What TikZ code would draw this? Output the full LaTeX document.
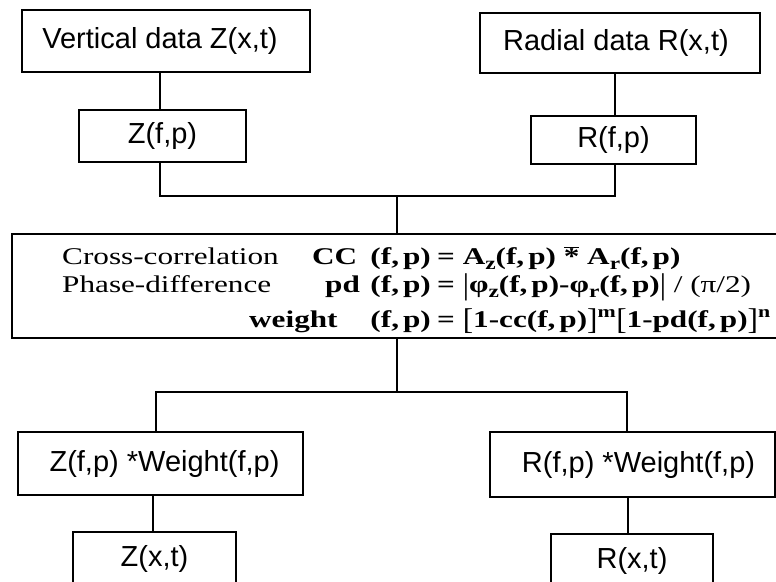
\documentclass[tikz,border=0pt]{standalone}
\usepackage{fontspec}
\setmainfont{Liberation Serif}[FakeStretch=1.3]
\newfontfamily\boxfont{Liberation Sans}
\newcommand\lowsub[1]{\raisebox{-5pt}{\fontsize{18}{18}\selectfont\bfseries #1}}
\newcommand\tallbr[1]{\raisebox{-2pt}{\scalebox{1}[1.25]{\mdseries #1}}}
\begin{document}
\begin{tikzpicture}[x=1pt,y=-1pt,
  box/.style={draw,line width=2.8pt,rectangle,inner sep=0pt,
    font=\boxfont\fontsize{29}{34}\selectfont},
  ln/.style={line width=2.8pt},
  ftxt/.style={inner sep=0pt,font=\fontsize{24}{28}\selectfont}]
\useasboundingbox (0,0) rectangle (776,581);
\fill[white] (0,0) rectangle (776,581);
\clip (0,0) rectangle (776,581);
% top boxes
\node[box,minimum width=288pt,minimum height=62pt] (vd) at (166,41) {Vertical data Z(x,t)\hspace*{12pt}};
\node[box,minimum width=280pt,minimum height=60pt] (rd) at (620,43) {Radial data R(x,t)\hspace*{8pt}};
\node[box,minimum width=167pt,minimum height=52pt] (zfp) at (162.5,136) {Z(f,p)};
\node[box,minimum width=165pt,minimum height=48pt] (rfp) at (613.5,140) {R(f,p)};
% central box
\node[box,minimum width=770pt,minimum height=104pt] (big) at (397,286) {};
% lower boxes
\node[box,minimum width=285pt,minimum height=63pt] (zw) at (160.5,463.5) {\hspace*{8pt}Z(f,p) *Weight(f,p)};
\node[box,minimum width=285pt,minimum height=65pt] (rw) at (632.5,464.5) {\hspace*{12pt}R(f,p) *Weight(f,p)};
\node[box,minimum width=163pt,minimum height=54pt] (zxt) at (154.5,559) {Z(x,t)};
\node[box,minimum width=162pt,minimum height=54pt] (rxt) at (632,561) {R(x,t)};
% junction coordinates
\coordinate (mL) at (160,196);
\coordinate (mR) at (615,196);
\coordinate (mC) at (397,196);
\coordinate (sL) at (156,392);
\coordinate (sR) at (627,392);
\coordinate (sC) at (397,392);
\coordinate (dL) at (153,500);
\coordinate (dR) at (628,500);
% connectors
\draw[ln] (vd.south -| mL) -- (zfp.north -| mL);
\draw[ln] (rd.south -| mR) -- (rfp.north -| mR);
\draw[ln] (zfp.south -| mL) -- (mL) -- (mR) -- (rfp.south -| mR);
\draw[ln] (mC) -- (big.north -| mC);
\draw[ln] (big.south -| sC) -- (sC);
\draw[ln] (zw.north -| sL) -- (sL) -- (sR) -- (rw.north -| sR);
\draw[ln] (zw.south -| dL) -- (zxt.north -| dL);
\draw[ln] (rw.south -| dR) -- (rxt.north -| dR);
% formulas
\node[ftxt,anchor=base west] (l1a) at (62,264) {Cross-correlation};
\node[ftxt,anchor=base west] (l1b) at (312,264) {\bfseries CC};
\node[ftxt,anchor=base east] (l1c) at (431,264) {\bfseries (f,\,p)};
\node[ftxt,anchor=base west] (l1d) at (437,264) {\bfseries = A\lowsub{z}(f,\,p) $\overline{\mbox{*}}$ A\lowsub{r}(f,\,p)};
\node[ftxt,anchor=base west] (l2a) at (62,292) {Phase-difference};
\node[ftxt,anchor=base west] (l2b) at (325,292) {\bfseries pd};
\node[ftxt,anchor=base east] (l2c) at (431,292) {\bfseries (f,\,p)};
\node[ftxt,anchor=base west] (l2d) at (437,292) {\textbf{= \tallbr{|}φ\lowsub{z}(f,\,p)-φ\lowsub{r}(f,\,p)\tallbr{|}} / (π/2)};
\node[ftxt,anchor=base west] (l3a) at (249,327) {\bfseries weight};
\node[ftxt,anchor=base east] (l3b) at (431,327) {\bfseries (f,\,p)};
\node[ftxt,anchor=base west] (l3c) at (437,327) {\bfseries = \tallbr{[}1-cc(f,\,p)\tallbr{]}\textsuperscript{m}\tallbr{[}1-pd(f,\,p)\tallbr{]}\textsuperscript{n}};
\end{tikzpicture}
\end{document}
